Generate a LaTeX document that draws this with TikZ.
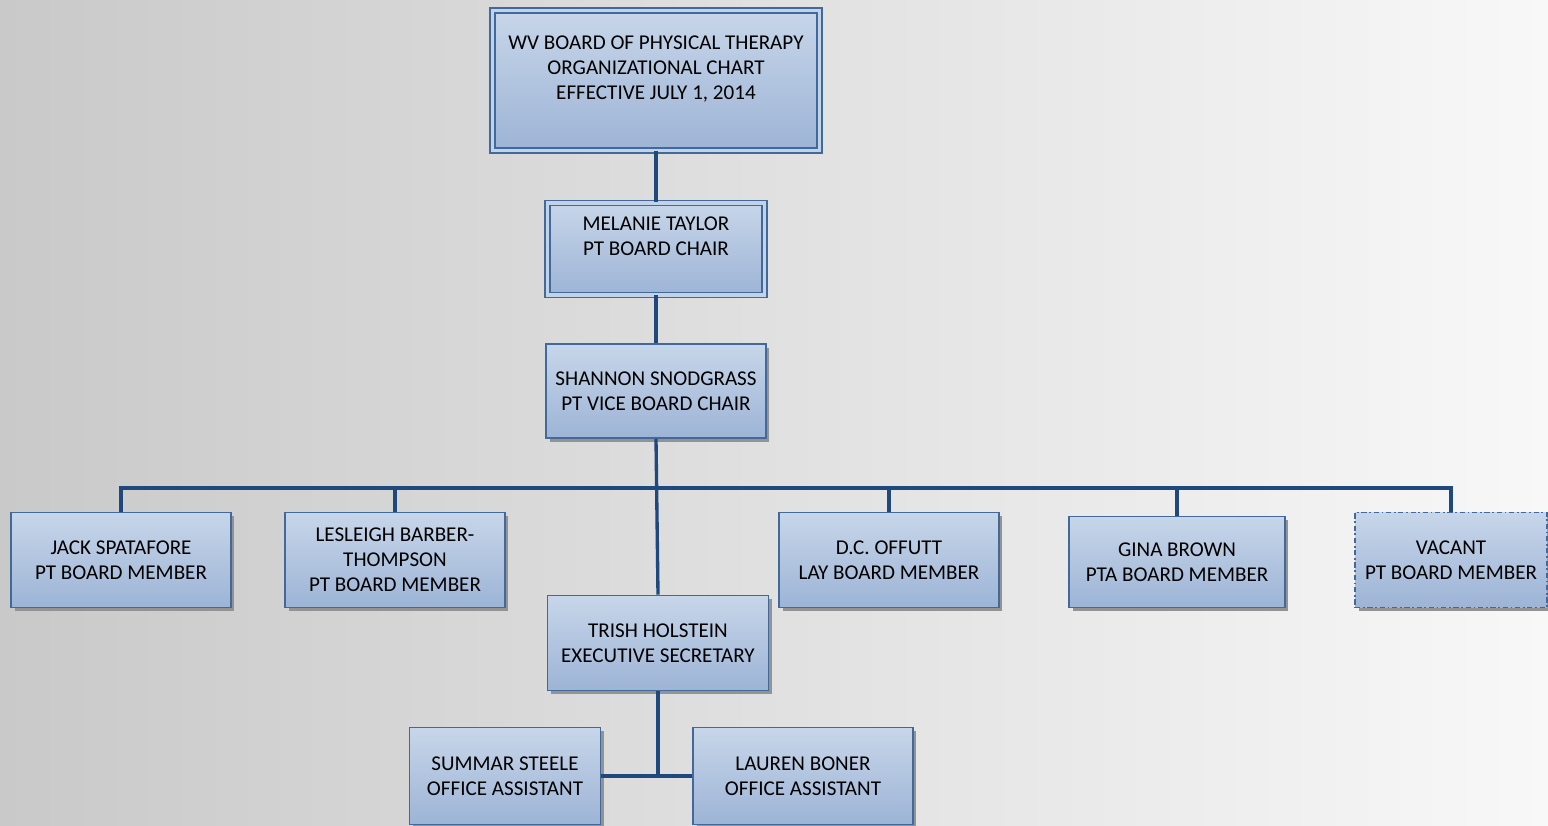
\documentclass[tikz,border=0pt]{standalone}
\usepackage{fontspec}
\setmainfont{Carlito}
\usetikzlibrary{positioning, shadows}
\definecolor{boxtop}{HTML}{C7D6E9}
\definecolor{boxbottom}{HTML}{9DB4D6}
\definecolor{boxedge}{HTML}{41699B}
\definecolor{linkblue}{HTML}{1F497D}
\definecolor{bgleft}{HTML}{C9C9C9}
\definecolor{bgright}{HTML}{F8F8F8}

\begin{document}
\begin{tikzpicture}[x=0.02cm, y=-0.02cm, node distance=1.02cm,
  every node/.style={font=\fontsize{12}{14.2}\selectfont},
  post/.style={draw=boxedge, line width=0.9pt, top color=boxtop, bottom color=boxbottom, align=center, inner sep=2pt,
    minimum width=4.4cm, minimum height=1.9cm,
    drop shadow={shadow xshift=0.07cm, shadow yshift=-0.07cm, fill=gray!85, opacity=1}},
  framed/.style={double=boxtop!90!boxbottom, double distance=2.2pt, line width=0.75pt},
  link/.style={draw=linkblue, line width=1.9pt}]
  \useasboundingbox (0,0) rectangle (1548,825);
  \clip (0,0) rectangle (1548,825);
  \shade[left color=bgleft, right color=bgright] (0,0) rectangle (1548,825);

  % board and chairs
  \node[post, framed, minimum width=6.54cm, minimum height=2.8cm] (board) at (656,80.5) {WV BOARD OF PHYSICAL THERAPY\\ORGANIZATIONAL CHART\\EFFECTIVE JULY 1, 2014\\ \mbox{}};
  \node[post, framed, minimum width=4.34cm, minimum height=1.84cm, below=of board] (chair) {MELANIE TAYLOR\\PT BOARD CHAIR\\ \mbox{}};
  \node[post, minimum height=1.88cm, below=0.96cm of chair] (vice) {SHANNON SNODGRASS\\PT VICE BOARD CHAIR};

  % board members
  \node[post] (spatafore) at (121,560) {JACK SPATAFORE\\PT BOARD MEMBER};
  \node[post] (barber) at (395,560) {LESLEIGH BARBER-\\THOMPSON\\PT BOARD MEMBER};
  \node[post] (offutt) at (889,560) {D.C. OFFUTT\\LAY BOARD MEMBER};
  \node[post, minimum width=4.32cm, minimum height=1.82cm] (brown) at (1177,562) {GINA BROWN\\PTA BOARD MEMBER};
  \node[post, minimum width=3.84cm, dash pattern=on 3pt off 1.5pt on 1pt off 1.5pt] (vacant) at (1451,560) {VACANT\\PT BOARD MEMBER};

  % staff
  \node[post, minimum width=4.42cm] (holstein) at (658,643) {TRISH HOLSTEIN\\EXECUTIVE SECRETARY};
  \node[post, minimum width=3.82cm, minimum height=1.94cm] (steele) at (505,776) {SUMMAR STEELE\\OFFICE ASSISTANT};
  \node[post, minimum height=1.94cm] (boner) at (803,776) {LAUREN BONER\\OFFICE ASSISTANT};

  \coordinate (bus) at (656,488);
  \draw[link] (board) -- (chair);
  \draw[link] (chair) -- (vice);
  \draw[link] (vice.south) -- (holstein.north);
  \draw[link] (spatafore.north) |- (bus) -| (vacant.north);
  \draw[link] (barber.north) -- (barber.north |- bus);
  \draw[link] (offutt.north) -- (offutt.north |- bus);
  \draw[link] (brown.north) -- (brown.north |- bus);
  \draw[link] (holstein.south) -- (holstein.south |- steele.east);
  \draw[link] (steele.east) -- (boner.west);
\end{tikzpicture}
\end{document}
